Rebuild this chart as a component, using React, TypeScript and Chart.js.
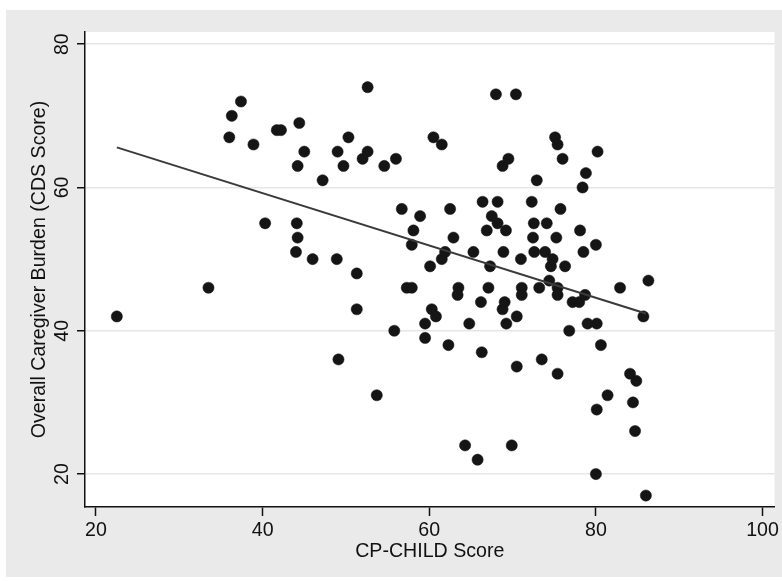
import React, { useEffect, useRef } from 'react';
import { Chart, registerables } from 'chart.js';

Chart.register(...registerables);

// CP-CHILD score (x) and overall caregiver burden (y)
const xValues = [
  22.5, 33.5, 36.0, 36.3, 37.4, 38.9, 40.3, 41.7, 42.2, 44.4,
  45.0, 44.2, 44.1, 44.2, 44.0, 46.0, 47.2, 49.0, 49.7, 50.3,
  48.9, 49.1, 51.3, 51.3, 52.0, 52.6, 52.6, 53.7, 54.6, 56.0,
  55.8, 56.7, 57.3, 57.9, 57.9, 58.1, 58.9, 59.5, 59.5, 60.1,
  60.3, 60.8, 60.5, 61.5, 61.5, 61.9, 62.3, 62.5, 62.9, 63.5,
  63.4, 64.3, 64.8, 65.3, 65.8, 66.2, 66.4, 66.3, 67.1, 67.3,
  66.9, 67.5, 68.0, 68.2, 68.2, 68.8, 69.5, 68.9, 68.8, 69.05,
  69.2, 69.25, 69.9, 70.4, 70.5, 70.5, 71.0, 71.1, 71.1, 72.3,
  72.45, 72.55, 72.6, 72.9, 73.2, 73.5, 73.9, 74.1, 74.4, 74.6,
  74.8, 75.1, 75.4, 75.25, 75.4, 75.4, 75.4, 75.75, 76.0, 76.3,
  76.8, 77.2, 78.0, 78.1, 78.4, 78.5, 78.7, 78.8, 79.0, 80.1,
  80.2, 80.0, 80.6, 80.1, 80.0, 81.4, 82.9, 84.1, 84.85, 84.45,
  84.7, 85.7, 86.0, 86.3,
];
const yValues = [
  42, 46, 67, 70, 72, 66, 55, 68, 68, 69,
  65, 63, 55, 53, 51, 50, 61, 65, 63, 67,
  50, 36, 48, 43, 64, 65, 74, 31, 63, 64,
  40, 57, 46, 46, 52, 54, 56, 41, 39, 49,
  43, 42, 67, 66, 50, 51, 38, 57, 53, 46,
  45, 24, 41, 51, 22, 44, 58, 37, 46, 49,
  54, 56, 73, 55, 58, 63, 64, 51, 43, 44,
  54, 41, 24, 73, 42, 35, 50, 46, 45, 58,
  53, 55, 51, 61, 46, 36, 51, 55, 47, 49,
  50, 67, 66, 53, 46, 45, 34, 57, 64, 49,
  40, 44, 44, 54, 60, 51, 45, 62, 41, 41,
  65, 52, 38, 29, 20, 31, 46, 34, 33, 30,
  26, 42, 17, 47,
];

// fitted line end points
const fitX = [22.5, 86.0];
const fitY = [65.6, 42.4];

const xTicks = [20, 40, 60, 80, 100];
const yTicks = [20, 40, 60, 80];
const xTitle = 'CP-CHILD Score';
const yTitle = 'Overall Caregiver Burden (CDS Score)';

const FONT = { family: '"Liberation Sans", Arial, Helvetica, sans-serif', size: 19.6 };
const INK = '#111111';

const bgPlugin = {
  id: 'stataBg',
  beforeDraw(chart: any) {
    const { ctx, chartArea, width, height } = chart;
    ctx.save();
    ctx.fillStyle = '#ffffff';
    ctx.fillRect(0, 0, width, height);
    ctx.fillStyle = '#eaeaea';
    ctx.fillRect(6, 10, width - 6, height - 14);
    ctx.fillStyle = '#ffffff';
    ctx.fillRect(chartArea.left, chartArea.top, chartArea.right - chartArea.left, chartArea.bottom - chartArea.top);
    ctx.restore();
  },
};

export default function App() {
  const ref = useRef<HTMLCanvasElement | null>(null);

  useEffect(() => {
    if (!ref.current) return;
    const points = xValues.map((x, i) => ({ x, y: yValues[i] }));
    const fit = fitX.map((x, i) => ({ x, y: fitY[i] }));
    const chart = new Chart(ref.current, {
      type: 'scatter',
      data: {
        datasets: [
          {
            type: 'line',
            data: fit,
            borderColor: '#3a3a3a',
            borderWidth: 2,
            pointRadius: 0,
            fill: false,
            showLine: true,
          } as any,
          {
            data: points,
            backgroundColor: '#151515',
            borderColor: '#151515',
            borderWidth: 0.5,
            pointRadius: 5.6,
            pointHoverRadius: 5.6,
          },
        ],
      },
      options: {
        animation: false,
        responsive: false,
        events: [],
        layout: { padding: { left: 0, top: 32, right: 7, bottom: 0 } },
        plugins: {
          legend: { display: false },
          tooltip: { enabled: false },
        },
        scales: {
          x: {
            type: 'linear',
            min: 18.68,
            max: 101.44,
            afterBuildTicks: (s: any) => {
              s.ticks = xTicks.map((v) => ({ value: v }));
            },
            afterFit: (s: any) => {
              s.height = 74;
            },
            grid: {
              drawOnChartArea: false,
              drawTicks: true,
              tickLength: 9,
              tickColor: INK,
              tickWidth: 1.5,
            },
            border: { display: true, color: INK, width: 1.5 },
            ticks: {
              color: INK,
              font: FONT,
              padding: 3,
              maxRotation: 0,
              minRotation: 0,
              autoSkip: false,
            },
            title: {
              display: true,
              text: xTitle,
              color: INK,
              font: FONT,
              padding: { top: 0, bottom: 17.2 },
            },
          },
          y: {
            type: 'linear',
            min: 15.4,
            max: 81.7,
            afterBuildTicks: (s: any) => {
              s.ticks = yTicks.map((v) => ({ value: v }));
            },
            afterFit: (s: any) => {
              s.width = 85;
            },
            grid: {
              color: '#e6e6e6',
              lineWidth: 1.5,
              drawTicks: true,
              tickLength: 8,
              tickColor: INK,
              tickWidth: 1.5,
            },
            border: { display: true, color: INK, width: 1.5 },
            ticks: {
              color: INK,
              font: FONT,
              padding: 4,
              minRotation: 90,
              maxRotation: 90,
              crossAlign: 'center',
              autoSkip: false,
            },
            title: {
              display: true,
              text: yTitle,
              color: INK,
              font: FONT,
              padding: { top: 28.2, bottom: 0 },
            },
          },
        },
      },
      plugins: [bgPlugin],
    } as any);
    return () => chart.destroy();
  }, []);

  return (
    <div style={{ position: 'fixed', left: 0, top: 0, width: 782, height: 581, background: '#fff' }}>
      <canvas ref={ref} width={782} height={581} style={{ display: 'block', width: 782, height: 581 }} />
    </div>
  );
}
